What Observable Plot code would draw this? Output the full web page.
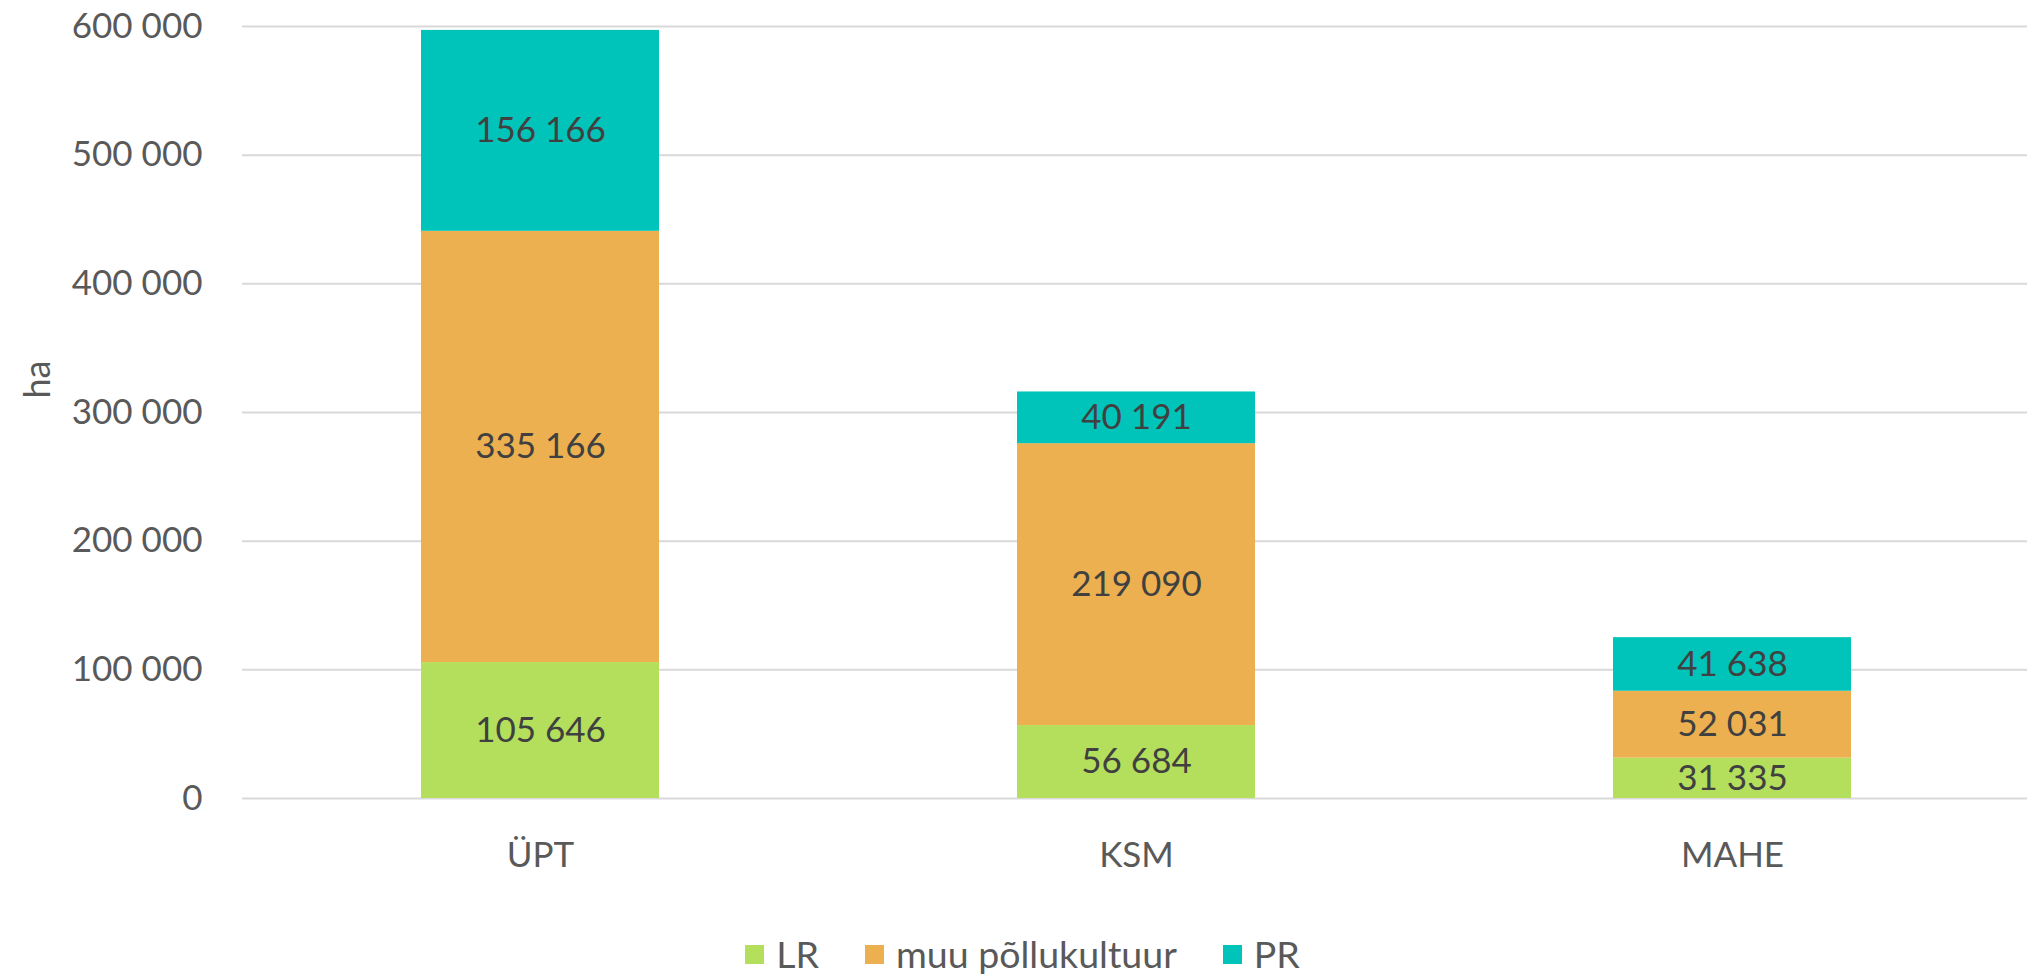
<!DOCTYPE html>
<html>
<head>
<meta charset="utf-8">
<script src="https://cdn.jsdelivr.net/npm/d3@7"></script>
<script src="https://cdn.jsdelivr.net/npm/@observablehq/plot@0.6"></script>
<style>
  html, body { margin: 0; padding: 0; background: #fff; }
  body { width: 2027px; height: 974px; overflow: hidden; font-family: Lato, sans-serif; }
  #legend {
    height: 38px; padding-top: 35px;
    display: flex; align-items: center; justify-content: center;
    font-family: Lato, sans-serif; font-size: 37.5px; line-height: 38px; color: #595959;
    padding-left: 18px;
  }
  .item { display: flex; align-items: center; margin: 0 23px; }
  .sw { width: 19px; height: 19px; margin-right: 12px; }
</style>
</head>
<body>
<div id="chart"></div>
<div id="legend"></div>
<script>
const categories = ["ÜPT", "KSM", "MAHE"];
const seriesNames = ["LR", "muu põllukultuur", "PR"];
const lrValues = [105646, 56684, 31335];
const muuValues = [335166, 219090, 52031];
const prValues = [156166, 40191, 41638];
const yTicks = [0, 100000, 200000, 300000, 400000, 500000, 600000];
const seriesColors = ["#b4df5c", "#ecb050", "#00c4b9"];
const yTitle = "ha";

const valuesBySeries = [lrValues, muuValues, prValues];
const data = [];
categories.forEach((c, i) => {
  seriesNames.forEach((s, j) => {
    data.push({cat: c, series: s, value: valuesBySeries[j][i]});
  });
});

const fmt = v => d3.format(",")(v).replace(/,/g, " ");

const chart = Plot.plot({
  width: 2027,
  height: 900,
  marginLeft: 242,
  marginRight: 0,
  marginTop: 26,
  marginBottom: 102,
  x: {domain: categories, range: [242, 2030], paddingInner: 0.6, paddingOuter: 0.3},
  y: {domain: [0, 600000], range: [798, 26]},
  color: {domain: seriesNames, range: seriesColors},
  style: {fontFamily: "Lato, sans-serif", fontSize: "35px", color: "#595959", background: "#fff", overflow: "visible"},
  marks: [
    Plot.ruleY(yTicks, {stroke: "#d9d9d9", strokeWidth: 2}),
    Plot.barY(data, {x: "cat", y: "value", fill: "series"}),
    Plot.text(data, Plot.stackY({x: "cat", y: "value", z: "series", text: d => fmt(d.value), fill: "#404040", fontSize: 35})),
    Plot.axisY({ticks: yTicks, tickSize: 0, tickPadding: 40, tickFormat: fmt, label: null, fontSize: 35}),
    Plot.axisX({tickSize: 0, tickPadding: 44, label: null, fontSize: 35}),
    Plot.text([yTitle], {text: d => d, frameAnchor: "left", dx: -204, dy: -14, rotate: -90, fontSize: 36, fill: "#595959"})
  ]
});
document.getElementById("chart").appendChild(chart);

const legend = document.getElementById("legend");
seriesNames.forEach((s, i) => {
  const item = document.createElement("div");
  item.className = "item";
  const sw = document.createElement("div");
  sw.className = "sw";
  sw.style.background = seriesColors[i];
  const label = document.createElement("span");
  label.textContent = s;
  item.appendChild(sw);
  item.appendChild(label);
  legend.appendChild(item);
});
</script>
</body>
</html>
